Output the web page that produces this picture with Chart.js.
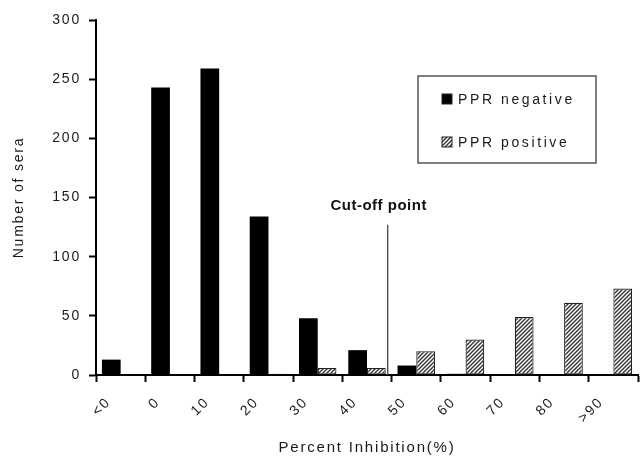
<!DOCTYPE html>
<html>
<head>
<meta charset="utf-8">
<script src="https://cdn.jsdelivr.net/npm/chart.js@4"></script>
<style>
  body { margin: 0; background: #fff; }
  #wrap { width: 640px; height: 464px; }
</style>
</head>
<body>
<div id="wrap"><canvas id="seraChart" width="640" height="464"></canvas></div>
<script>
const categories = ['<0', '0', '10', '20', '30', '40', '50', '60', '70', '80', '>90'];
const pprNegative = [13, 243, 259, 134, 48, 21, 8, 1, 0, 0, 0];
const pprPositive = [0, 0, 0, 1, 6, 6, 20, 30, 49, 61, 73];
const yTicks = [0, 50, 100, 150, 200, 250, 300];
const cutOff = { position: 5.42, top: 127, label: 'Cut-off point' };

// hatch pattern for the positive bars
function makeHatch() {
    const c = document.createElement('canvas');
    c.width = 4; c.height = 4;
    const g = c.getContext('2d');
    g.fillStyle = '#fff';
    g.fillRect(0, 0, 4, 4);
    g.strokeStyle = '#333';
    g.lineWidth = 1.4;
    g.beginPath();
    g.moveTo(-1, 5); g.lineTo(5, -1);
    g.moveTo(-1, 1); g.lineTo(1, -1);
    g.moveTo(3, 5); g.lineTo(5, 3);
    g.stroke();
    return g.createPattern(c, 'repeat');
}
const hatch = makeHatch();

// the original uses widely spaced lettering
const spacingPlugin = {
    id: 'spacing',
    beforeLayout(chart) { chart.ctx.letterSpacing = '1.8px'; },
    beforeDraw(chart) { chart.ctx.letterSpacing = '1.8px'; }
};

// cut-off line and the boxed legend
const annotatePlugin = {
    id: 'annotate',
    afterDatasetsDraw(chart) {
        const ctx = chart.ctx;
        const x = chart.scales.x;
        const y = chart.scales.y;
        const px = x.getPixelForValue(cutOff.position);
        ctx.save();
        ctx.strokeStyle = '#444';
        ctx.lineWidth = 1.3;
        ctx.beginPath();
        ctx.moveTo(px, y.getPixelForValue(cutOff.top));
        ctx.lineTo(px, y.getPixelForValue(0));
        ctx.stroke();
        ctx.letterSpacing = '0.5px';
        ctx.font = 'bold 15px "Liberation Sans", Arial, sans-serif';
        ctx.fillStyle = '#111';
        ctx.textAlign = 'center';
        ctx.textBaseline = 'alphabetic';
        ctx.fillText(cutOff.label, px - 9, y.getPixelForValue(cutOff.top) - 15);

        // legend box
        ctx.strokeStyle = '#555';
        ctx.lineWidth = 1.5;
        ctx.strokeRect(418, 76, 178, 87);
        ctx.font = '14px "Liberation Sans", Arial, sans-serif';
        ctx.letterSpacing = '2.6px';
        ctx.textAlign = 'left';
        ctx.textBaseline = 'middle';
        const rows = [99, 142];
        chart.data.datasets.forEach((ds, i) => {
            const cy = rows[i];
            ctx.fillStyle = ds.backgroundColor;
            ctx.fillRect(442, cy - 5, 10, 10);
            ctx.strokeStyle = '#222';
            ctx.lineWidth = 1;
            ctx.strokeRect(442, cy - 5, 10, 10);
            ctx.fillStyle = '#1a1a1a';
            ctx.fillText(ds.label, 458, cy + 1);
        });
        ctx.restore();
    }
};

const font = { family: '"Liberation Sans", Arial, sans-serif', size: 14 };

new Chart(document.getElementById('seraChart'), {
    type: 'bar',
    data: {
        labels: categories,
        datasets: [{
            label: 'PPR negative',
            data: pprNegative,
            backgroundColor: '#000',
            borderColor: '#000',
            borderWidth: 0
        }, {
            label: 'PPR positive',
            data: pprPositive,
            backgroundColor: hatch,
            borderColor: '#222',
            borderWidth: 1.2,
            borderSkipped: false
        }]
    },
    options: {
        responsive: false,
        animation: false,
        categoryPercentage: 0.76,
        barPercentage: 1,
        layout: { padding: { left: 0, right: 2, top: 20, bottom: 0 } },
        plugins: {
            legend: { display: false },
            tooltip: { enabled: false }
        },
        scales: {
            x: {
                offset: true,
                afterFit(scale) { scale.height = 89; },
                grid: {
                    offset: true,
                    drawOnChartArea: false,
                    drawTicks: true,
                    tickLength: 7,
                    tickWidth: 2,
                    tickColor: '#000'
                },
                border: { display: true, color: '#000', width: 2 },
                ticks: {
                    font: font,
                    color: '#1a1a1a',
                    minRotation: 45,
                    maxRotation: 45,
                    padding: 12,
                    labelOffset: -12
                },
                title: {
                    display: true,
                    text: 'Percent Inhibition(%)',
                    font: { family: font.family, size: 15 },
                    color: '#1a1a1a',
                    padding: { top: 0, bottom: 7 }
                }
            },
            y: {
                min: 0,
                max: 300,
                afterFit(scale) { scale.width = 96; },
                afterBuildTicks(scale) { scale.ticks = yTicks.map(v => ({ value: v })); },
                grid: {
                    drawOnChartArea: false,
                    drawTicks: true,
                    tickLength: 7,
                    tickWidth: 2,
                    tickColor: '#000'
                },
                border: { display: true, color: '#000', width: 2 },
                ticks: { font: font, color: '#1a1a1a', padding: 8 },
                title: {
                    display: true,
                    text: 'Number of sera',
                    font: { family: font.family, size: 14 },
                    color: '#1a1a1a',
                    padding: { top: 11, bottom: 0 }
                }
            }
        }
    },
    plugins: [spacingPlugin, annotatePlugin]
});
</script>
</body>
</html>
